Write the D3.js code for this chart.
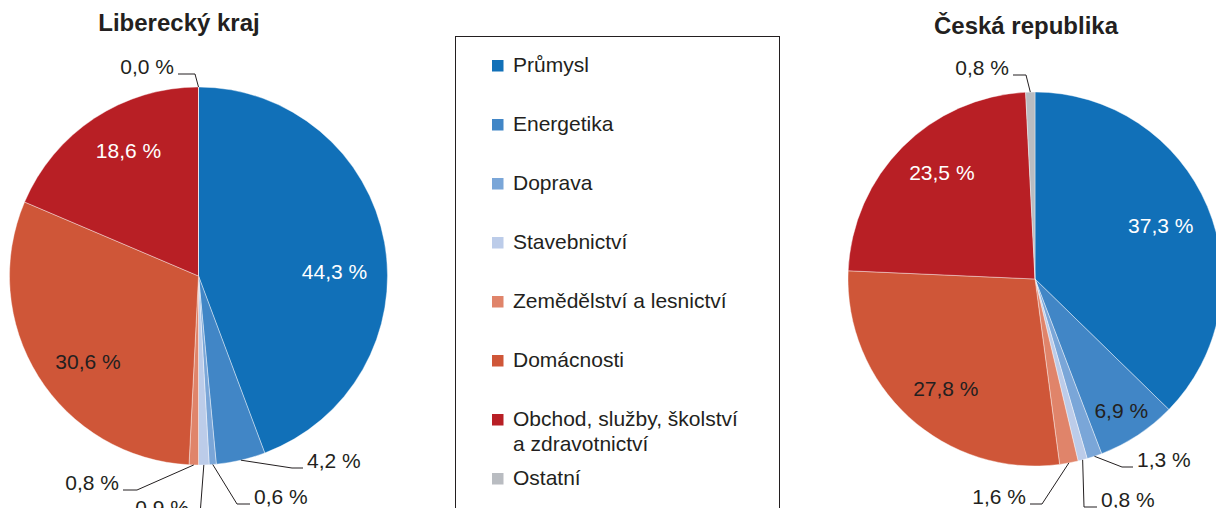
<!DOCTYPE html>
<html>
<head>
<meta charset="utf-8">
<script src="https://cdn.jsdelivr.net/npm/d3@7"></script>
<style>
  body { margin: 0; background: #fff; }
  text { font-family: "Liberation Sans", Arial, Helvetica, sans-serif; }
</style>
</head>
<body>
<svg id="chart" width="1216" height="508"></svg>
<script>
var categories = ["Průmysl", "Energetika", "Doprava", "Stavebnictví",
    "Zemědělství a lesnictví", "Domácnosti", "Obchod, služby, školství a zdravotnictví", "Ostatní"];
var legendLines = [["Průmysl"], ["Energetika"], ["Doprava"], ["Stavebnictví"],
    ["Zemědělství a lesnictví"], ["Domácnosti"], ["Obchod, služby, školství", "a zdravotnictví"], ["Ostatní"]];
var colors = ["#1170b8", "#4186c6", "#7aa6d8", "#bccce9", "#e0846a", "#cf5638", "#b81f25", "#b9bcc1"];

var liberecValues = [44.3, 4.2, 0.6, 0.9, 0.8, 30.6, 18.6, 0.0];
var czValues = [37.3, 6.9, 1.3, 0.8, 1.6, 27.8, 23.5, 0.8];

var titles = ["Liberecký kraj", "Česká republika"];

//Label colour inside the slices
var whiteLabels = ["Průmysl", "Obchod, služby, školství a zdravotnictví"];
var dark = "#231f20";

//Inside labels: [angle shift in degrees, radius factor]
var liberecInside = {
    "Průmysl": [8.3, 0.72],
    "Domácnosti": [-5.8, 0.74],
    "Obchod, služby, školství a zdravotnictví": [4.3, 0.76]
};
var czInside = {
    "Průmysl": [0, 0.73],
    "Energetika": [0, 0.84],
    "Domácnosti": [-3.3, 0.755],
    "Obchod, služby, školství a zdravotnictví": [3.9, 0.755]
};

//Outside labels: elbow / end of leader relative to the pie centre
var liberecOutside = {
    "Ostatní": { elbow: [-3.5, -202], end: [-20.5, -202], anchor: "end" },
    "Energetika": { elbow: [93.5, 192], end: [104.5, 192], anchor: "start" },
    "Doprava": { elbow: [38.5, 228], end: [51.5, 228], anchor: "start" },
    "Stavebnictví": { elbow: [1.5, 239], end: [-5.5, 239], anchor: "end" },
    "Zemědělství a lesnictví": { elbow: [-61.5, 214], end: [-75.5, 214], anchor: "end" }
};
var czOutside = {
    "Ostatní": { elbow: [-9, -204], end: [-22, -204], anchor: "end" },
    "Doprava": { elbow: [87, 188], end: [98, 188], anchor: "start" },
    "Stavebnictví": { elbow: [49, 228], end: [62, 228], anchor: "start" },
    "Zemědělství a lesnictví": { elbow: [7, 225], end: [-5, 225], anchor: "end" }
};

var svg = d3.select("#chart");
var fmt = d3.format(".1f");
function pct(v) { return fmt(v).replace(".", ",") + " %"; }

var color = d3.scaleOrdinal().domain(categories).range(colors);

function drawPie(values, inside, outside, cx, cy, r, title, titleX, titleY) {
    var g = svg.append("g").attr("transform", "translate(" + cx + "," + cy + ")");
    var rows = categories.map(function (c, i) { return { name: c, value: values[i] }; });
    var pie = d3.pie().sort(null).value(function (d) { return d.value; });
    var arc = d3.arc().innerRadius(0).outerRadius(r);
    var arcs = pie(rows);

    g.selectAll("path")
        .data(arcs)
        .enter()
        .append("path")
        .attr("d", arc)
        .attr("fill", function (d) { return color(d.data.name); })
        .attr("stroke", "#fff")
        .attr("stroke-width", 0.4);

    //Inside labels
    arcs.forEach(function (d) {
        var p = inside[d.data.name];
        if (!p) return;
        var a = (d.startAngle + d.endAngle) / 2 + p[0] * Math.PI / 180;
        var k = r * p[1];
        g.append("text")
            .attr("x", Math.sin(a) * k)
            .attr("y", -Math.cos(a) * k)
            .attr("dy", "0.35em")
            .attr("text-anchor", "middle")
            .attr("font-size", 21)
            .attr("fill", whiteLabels.indexOf(d.data.name) >= 0 ? "#fff" : dark)
            .text(pct(d.data.value));
    });

    //Outside labels with leader lines
    arcs.forEach(function (d) {
        var o = outside[d.data.name];
        if (!o) return;
        var start = d3.arc().innerRadius(r).outerRadius(r).centroid(d);
        g.append("polyline")
            .attr("points", [start, o.elbow, o.end].map(function (p) { return p.join(","); }).join(" "))
            .attr("fill", "none")
            .attr("stroke", dark)
            .attr("stroke-width", 1);
        g.append("text")
            .attr("x", o.end[0] + (o.anchor === "start" ? 4 : -4))
            .attr("y", o.end[1])
            .attr("text-anchor", o.anchor)
            .attr("font-size", 21)
            .attr("fill", dark)
            .text(pct(d.data.value));
    });

    svg.append("text")
        .attr("x", titleX)
        .attr("y", titleY)
        .attr("text-anchor", "middle")
        .attr("font-size", 24)
        .attr("font-weight", "bold")
        .attr("fill", dark)
        .text(title);
}

drawPie(liberecValues, liberecInside, liberecOutside, 198.5, 276, 189, titles[0], 179, 31);
drawPie(czValues, czInside, czOutside, 1035, 279, 187, titles[1], 1026, 34);

//Legend
var legend = svg.append("g");
legend.append("rect")
    .attr("x", 455.5)
    .attr("y", 36.5)
    .attr("width", 324)
    .attr("height", 500)
    .attr("fill", "none")
    .attr("stroke", dark)
    .attr("stroke-width", 1);

var rowY = d3.scaleLinear().domain([0, 1]).range([72, 131]);

var items = legend.selectAll("g.item")
    .data(categories)
    .enter()
    .append("g")
    .attr("class", "item")
    .attr("transform", function (d, i) { return "translate(0," + rowY(i) + ")"; });

items.append("rect")
    .attr("x", 492)
    .attr("y", -12)
    .attr("width", 11.5)
    .attr("height", 11.5)
    .attr("fill", function (d) { return color(d); });

items.append("text")
    .attr("font-size", 21)
    .attr("fill", dark)
    .selectAll("tspan")
    .data(function (d, i) { return legendLines[i]; })
    .enter()
    .append("tspan")
    .attr("x", 513)
    .attr("y", function (d, j) { return j * 25; })
    .text(function (d) { return d; });
</script>
</body>
</html>
